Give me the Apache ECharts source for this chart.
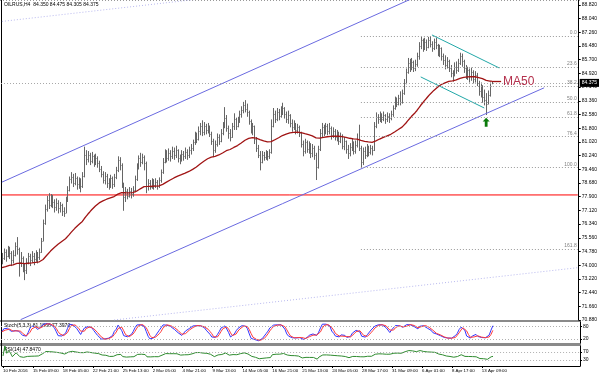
<!DOCTYPE html>
<html>
<head>
<meta charset="utf-8">
<script src="https://cdn.jsdelivr.net/npm/echarts@6/dist/echarts.min.js"></script>
<style>
  html, body { margin: 0; padding: 0; background: #fff; }
  #chart { width: 600px; height: 376px; }
</style>
</head>
<body>
<div id="chart"></div>
<script>
// H4 bars
const highs = [
  74.70, 74.95, 74.90, 75.10, 75.05, 74.80, 74.85, 75.30, 75.60, 75.00, 74.75,
  74.50, 74.10, 74.40, 74.70, 74.65, 74.80, 74.70, 74.85, 74.75, 74.95, 75.55,
  76.60, 77.45, 77.95, 78.10, 78.05, 78.00, 77.75, 77.80, 77.70, 77.60, 77.50, 77.30, 77.90,
  78.50, 79.05, 79.30, 79.20, 79.25, 79.05, 79.00, 78.95, 79.30, 80.75, 80.55,
  80.50, 80.40, 80.45, 80.30, 80.35, 80.20, 79.95, 79.65,
  79.35, 79.30, 79.20, 78.95, 79.15, 79.05, 79.20, 79.60,
  80.20, 80.15, 79.80, 78.70, 78.45,
  78.35, 78.45, 78.40, 78.50, 79.10,
  79.80, 80.25, 80.40, 80.35, 80.25, 79.90,
  78.90, 78.85, 78.95, 78.90, 78.95, 78.85, 79.00, 79.45,
  80.10, 80.60, 80.55, 80.65, 80.55,
  80.75, 80.70, 80.80, 80.60, 80.30, 80.55, 80.50, 80.70, 80.60, 80.75, 80.90,
  81.15, 81.60, 81.55, 81.90, 82.10,
  82.25, 82.15, 82.05, 82.10, 81.95, 81.60,
  81.20, 81.10, 81.50, 81.45, 81.75,
  82.15, 83.00, 82.55, 81.95, 81.75, 82.10, 82.65, 82.40, 82.45,
  82.80, 83.05, 83.30, 83.40, 83.20,
  82.80, 82.30, 82.10, 81.95, 81.30, 80.85, 80.50,
  80.50, 80.45, 80.55, 80.50, 80.60, 82.30,
  82.95, 82.80, 82.95, 82.90, 83.05, 83.25,
  83.00, 82.75, 82.80, 82.60, 82.30, 82.25, 82.10, 82.05, 81.95,
  81.60, 81.10, 81.20, 81.10,
  81.05, 80.95, 80.90, 80.80, 80.40,
  80.80, 81.75, 82.10, 82.00, 82.10, 82.05,
  82.10, 81.90, 81.85, 81.75, 81.70, 81.60, 81.55,
  81.45, 81.30, 81.10, 80.85, 80.95, 81.20, 81.05, 81.10, 81.50,
  82.00, 80.80, 80.70, 80.75, 80.90,
  80.80, 80.85, 80.80,
  82.15, 82.70, 82.60, 82.75,
  82.65, 82.75, 82.60, 82.70, 82.65, 82.80, 83.10,
  83.60, 83.55, 83.70, 83.90,
  84.00, 84.60, 85.20, 85.80, 85.75,
  85.80, 85.65, 85.70, 86.10,
  86.70, 87.00, 86.90,
  86.95, 86.85, 87.00, 87.05, 86.75, 86.90, 86.95,
  86.60, 86.55, 86.40, 86.05,
  85.95, 85.85, 85.70, 85.40,
  85.10, 85.55, 85.60, 85.75,
  86.10, 86.05, 85.70,
  85.40, 85.30, 85.20, 85.25, 85.10, 85.05, 84.95,
  84.50, 84.40, 84.25,
  84.00, 83.80,
  83.95, 84.40, 84.475
];
const lows = [
  74.05, 74.30, 74.20, 74.45, 74.35, 73.95, 74.10, 74.50, 74.60, 73.35, 73.90,
  73.60, 73.15, 73.50, 74.05, 73.95, 74.15, 74.00, 74.20, 74.10, 74.30, 74.70,
  75.35, 76.30, 77.05, 77.20, 77.30, 77.25, 77.00, 77.10, 76.95, 77.00, 76.80, 76.75, 76.95,
  77.60, 78.20, 78.65, 78.45, 78.55, 78.30, 78.35, 78.15, 78.40, 79.00, 79.70,
  79.85, 79.70, 79.80, 79.60, 79.70, 79.55, 79.30, 79.00,
  78.65, 78.60, 78.40, 78.30, 78.40, 78.35, 78.45, 78.90,
  79.30, 79.40, 78.40, 77.10, 77.60,
  77.75, 77.85, 77.80, 77.90, 78.15,
  78.80, 79.45, 79.60, 79.75, 79.40, 78.10,
  78.25, 78.30, 78.35, 78.30, 78.40, 78.30, 78.40, 78.70,
  79.20, 79.80, 79.85, 79.95, 79.90,
  80.05, 80.00, 80.10, 79.85, 79.75, 79.90, 79.95, 80.05, 80.00, 80.10, 80.30,
  80.50, 80.85, 80.95, 81.10, 81.40,
  81.35, 81.40, 81.45, 81.50, 81.30, 80.85,
  80.15, 80.40, 80.75, 80.85, 81.00,
  81.40, 81.80, 81.60, 81.20, 81.05, 81.25, 81.70, 81.70, 81.85,
  82.10, 82.40, 82.65, 82.70, 82.45,
  82.00, 81.50, 81.40, 80.90, 80.45, 80.10, 79.40,
  79.80, 79.95, 80.00, 79.95, 80.05, 80.35,
  81.85, 82.10, 82.20, 82.25, 82.40, 82.55,
  82.35, 82.10, 82.05, 81.85, 81.60, 81.70, 81.45, 81.50, 81.30,
  80.70, 80.20, 80.35, 80.40,
  80.35, 80.10, 80.15, 80.00, 78.85,
  79.50, 80.50, 81.30, 81.35, 81.45, 81.40,
  81.45, 81.15, 81.25, 81.10, 81.05, 80.85, 80.95,
  80.60, 80.55, 80.35, 80.05, 80.20, 80.50, 80.30, 80.35, 80.70,
  80.50, 79.55, 79.70, 80.05, 80.15,
  80.20, 80.30, 80.25,
  80.50, 81.80, 82.05, 82.15,
  82.10, 82.20, 82.05, 82.15, 82.10, 82.25, 82.45,
  82.85, 83.00, 83.10, 83.10,
  83.20, 83.70, 84.30, 84.90, 85.00,
  85.10, 85.00, 85.05, 85.30,
  85.70, 86.30, 86.15,
  86.25, 86.20, 86.35, 86.40, 86.15, 86.25, 86.30,
  85.90, 85.85, 85.65, 85.40,
  85.15, 85.20, 85.00, 84.70,
  84.45, 84.75, 84.90, 85.00,
  85.40, 85.30, 84.95,
  84.60, 84.55, 84.40, 84.50, 84.35, 84.40, 84.20,
  83.65, 83.55, 83.25,
  83.10, 82.55,
  83.15, 83.60, 84.305
];
const closes = [
  74.40, 74.75, 74.55, 74.85, 74.70, 74.30, 74.60, 75.10, 74.90, 74.20, 74.40,
  73.90, 73.70, 74.20, 74.50, 74.30, 74.55, 74.35, 74.60, 74.45, 74.75, 75.40,
  76.40, 77.20, 77.70, 77.45, 77.85, 77.60, 77.30, 77.55, 77.25, 77.40, 77.10, 77.00, 77.70,
  78.30, 78.90, 79.05, 78.70, 78.95, 78.60, 78.85, 78.50, 79.10, 80.30, 80.05,
  80.25, 79.95, 80.20, 79.85, 80.10, 79.80, 79.50, 79.20,
  78.85, 79.10, 78.70, 78.55, 78.95, 78.60, 79.00, 79.40,
  80.00, 79.70, 78.60, 77.90, 78.20,
  77.95, 78.25, 78.05, 78.30, 78.90,
  79.60, 80.10, 79.85, 80.15, 79.80, 78.50,
  78.70, 78.45, 78.80, 78.55, 78.75, 78.50, 78.85, 79.30,
  79.90, 80.35, 80.10, 80.40, 80.20,
  80.50, 80.30, 80.55, 80.10, 80.00, 80.35, 80.20, 80.45, 80.30, 80.55, 80.70,
  81.00, 81.40, 81.20, 81.65, 81.90,
  81.60, 81.95, 81.70, 81.85, 81.45, 81.10,
  80.55, 80.90, 81.30, 81.10, 81.55,
  81.90, 82.40, 81.80, 81.55, 81.30, 81.90, 82.30, 81.95, 82.25,
  82.60, 82.85, 83.10, 82.90, 82.70,
  82.20, 81.70, 81.90, 81.20, 80.70, 80.30, 79.90,
  80.30, 80.15, 80.40, 80.20, 80.45, 81.90,
  82.60, 82.35, 82.70, 82.50, 82.85, 82.95,
  82.60, 82.30, 82.55, 82.10, 81.85, 82.05, 81.70, 81.85, 81.55,
  80.90, 80.50, 81.00, 80.60,
  80.85, 80.40, 80.70, 80.25, 79.60,
  80.60, 81.50, 81.85, 81.60, 81.90, 81.65,
  81.80, 81.40, 81.65, 81.30, 81.50, 81.10, 81.35,
  80.80, 81.05, 80.60, 80.40, 80.75, 80.95, 80.50, 80.85, 81.20,
  80.70, 79.90, 80.50, 80.30, 80.75,
  80.45, 80.70, 80.55,
  81.90, 82.45, 82.30, 82.55,
  82.35, 82.55, 82.30, 82.50, 82.40, 82.60, 82.95,
  83.40, 83.20, 83.50, 83.30,
  83.80, 84.40, 85.00, 85.50, 85.30,
  85.55, 85.20, 85.45, 85.90,
  86.50, 86.80, 86.40,
  86.70, 86.45, 86.80, 86.60, 86.35, 86.70, 86.55,
  86.10, 86.35, 85.90, 85.70,
  85.40, 85.65, 85.20, 84.95,
  84.85, 85.30, 85.10, 85.50,
  85.90, 85.60, 85.20,
  84.80, 85.10, 84.75, 85.00, 84.60, 84.85, 84.40,
  83.90, 84.20, 83.60,
  83.40, 83.20,
  83.70, 84.20, 84.375
];

const timeLabels = [
  '10 Feb 2016', '15 Feb 09:00', '18 Feb 05:00', '22 Feb 21:00', '25 Feb 13:00',
  '2 Mar 05:00', '4 Mar 21:00', '9 Mar 13:00', '14 Mar 05:00', '16 Mar 21:00',
  '21 Mar 13:00', '24 Mar 05:00', '28 Mar 17:00', '31 Mar 09:00', '6 Apr 01:00',
  '8 Apr 17:00', '13 Apr 09:00'
];
const labelEvery = 16;
const slotCount = 309;

const priceTicks = [
  70.88, 71.66, 72.44, 73.22, 74.00, 74.78, 75.56, 76.34, 77.12, 77.90, 78.68, 79.46,
  80.24, 81.02, 81.80, 82.58, 83.36, 84.14, 84.92, 85.70, 86.48, 87.26, 88.04, 88.82
];
const stochTicks = [0, 20, 80, 100];
const rsiTicks = [30, 70];

// drawn objects: [bar index, price]
const upperChannel = [[0, 78.73], [230, 89.69]];
const lowerChannel = [[10, 70.90], [290, 84.10]];
const upperFaint = [[0, 87.88], [110, 89.21]];
const lowerFaint = [[60, 70.88], [308, 73.86]];
const flagUpper = [[230, 87.11], [266, 85.23]];
const flagLower = [[224, 84.72], [258, 82.95]];
const redLevel = 78.0;
const lastPrice = 84.375;
const fibStart = 192, fibLow = 79.55, fibHigh = 87.05;
const fibRatios = [0, 23.6, 38.2, 50, 61.8, 76.4, 100, 161.8];
const arrowAt = [259, 82.40];
const maPeriod = 50;
const maSeed = 73.84;   // MA value at the left edge

// indicators
function sma(arr, n) {
  return arr.map((_, i) => {
    const s = Math.max(0, i - n + 1);
    let t = 0;
    for (let j = s; j <= i; j++) t += arr[j];
    return +(t / (i - s + 1)).toFixed(4);
  });
}
function ema(arr, n, seed) {
  const k = 2 / (n + 1);
  let e = seed;
  return arr.map(v => { e = e + k * (v - e); return +e.toFixed(4); });
}
const ma50 = ema(closes, maPeriod, maSeed);

const stochParts = closes.map((c, i) => {
  let hh = -Infinity, ll = Infinity;
  for (let j = Math.max(0, i - 4); j <= i; j++) {
    hh = Math.max(hh, highs[j]);
    ll = Math.min(ll, lows[j]);
  }
  return [c - ll, hh - ll];
});
const stochMain = stochParts.map((_, i) => {
  let a = 0, b = 0;
  for (let j = Math.max(0, i - 2); j <= i; j++) { a += stochParts[j][0]; b += stochParts[j][1]; }
  return b ? +(a / b * 100).toFixed(2) : 50;
});
const stochSignal = sma(stochMain, 3);

const rsi = [];
let avgGain = 0, avgLoss = 0;
closes.forEach((c, i) => {
  if (i === 0) { rsi.push(50); return; }
  const ch = c - closes[i - 1];
  const g = Math.max(ch, 0), l = Math.max(-ch, 0);
  if (i <= 14) {
    avgGain = (avgGain * (i - 1) + g) / i;
    avgLoss = (avgLoss * (i - 1) + l) / i;
  } else {
    avgGain = (avgGain * 13 + g) / 14;
    avgLoss = (avgLoss * 13 + l) / 14;
  }
  rsi.push(avgLoss === 0 ? 100 : +(100 - 100 / (1 + avgGain / avgLoss)).toFixed(2));
});

const idx = (arr) => arr.map((v, i) => [i, v]);
const slots = Array.from({ length: slotCount }, (_, i) => i);
const font = 'Liberation Sans';
const small = { fontSize: 5, fontFamily: font, color: '#000' };

var chart = echarts.init(document.getElementById('chart'), null, { renderer: 'canvas' });

const fibLines = fibRatios.map(r => {
  const p = fibHigh - r / 100 * (fibHigh - fibLow);
  return [
    { coord: [fibStart, p], label: { formatter: String(r.toFixed(1)) } },
    { coord: [slotCount - 1, p] }
  ];
});

const showLabel = (i) => i % labelEvery === 0 && i / labelEvery < timeLabels.length;
const xAxes = [0, 1, 2].map(g => ({
  type: 'category', gridIndex: g, data: slots, boundaryGap: true,
  axisLine: { show: g === 2, lineStyle: { color: '#000', width: 1 } },
  axisTick: { show: g === 2, length: 2, alignWithLabel: true, interval: showLabel },
  axisLabel: {
    show: g === 2, fontSize: 4.4, fontFamily: font, color: '#000', margin: 3, align: 'left',
    interval: showLabel,
    formatter: (v, i) => timeLabels[i / labelEvery] || ''
  },
  splitLine: { show: false }
}));

var option = {
  animation: false,
  backgroundColor: '#fff',
  grid: [
    { left: 1, right: 20, top: 0, height: 320 },
    { left: 1, right: 20, top: 322, height: 21 },
    { left: 1, right: 20, top: 346, height: 20 }
  ],
  xAxis: xAxes,
  yAxis: [
    {
      type: 'value', gridIndex: 0, position: 'right', min: 70.88, max: 89.10,
      axisLine: { show: true, lineStyle: { color: '#000' } },
      axisTick: { show: true, length: 2, customValues: priceTicks, lineStyle: { color: '#000' } },
      axisLabel: { ...small, margin: 3, customValues: priceTicks, formatter: v => v.toFixed(3) },
      splitLine: { show: false }
    },
    {
      type: 'value', gridIndex: 1, position: 'right', min: 0, max: 100,
      axisLine: { show: true, lineStyle: { color: '#000' } },
      axisTick: { show: true, length: 2, customValues: stochTicks },
      axisLabel: { ...small, margin: 3, customValues: stochTicks },
      splitLine: { show: false }
    },
    {
      type: 'value', gridIndex: 2, position: 'right', min: 0, max: 100,
      axisLine: { show: true, lineStyle: { color: '#000' } },
      axisTick: { show: true, length: 2, customValues: rsiTicks },
      axisLabel: { ...small, margin: 3, customValues: rsiTicks },
      splitLine: { show: false }
    }
  ],
  series: [
    {
      name: 'level', type: 'line', xAxisIndex: 0, yAxisIndex: 0,
      data: [[0, redLevel], [slotCount - 1, redLevel]],
      symbol: 'none', silent: true, lineStyle: { color: '#ff0000', width: 1 }, z: 1,
      markLine: {
        silent: true, symbol: ['none', 'none'], animation: false,
        lineStyle: { color: '#9a9a9a', type: [1, 2], width: 1 },
        label: { show: true, position: 'insideEndTop', distance: 1, fontSize: 5, fontFamily: font, color: '#808080' },
        data: [
          ...fibLines,
          {
            yAxis: lastPrice,
            lineStyle: { color: '#a8a8a8', type: [1, 2] },
            label: {
              position: 'end', distance: 1, formatter: lastPrice.toFixed(3),
              backgroundColor: '#000', color: '#fff', fontSize: 5, padding: [2, 2, 1, 2]
            }
          }
        ]
      },
      markPoint: {
        silent: true, animation: false,
        symbol: 'path://M5,0 L10,5 L7,5 L7,12 L3,12 L3,5 L0,5 Z',
        symbolSize: [7, 9], symbolOffset: [0, '50%'],
        itemStyle: { color: '#0a7a0a' }, label: { show: false },
        data: [{ coord: arrowAt }]
      }
    },
    {
      name: 'upperChannel', type: 'line', data: upperChannel, symbol: 'none', silent: true,
      lineStyle: { color: '#6a6ae0', width: 1 }
    },
    {
      name: 'lowerChannel', type: 'line', data: lowerChannel, symbol: 'none', silent: true,
      lineStyle: { color: '#6a6ae0', width: 1 }
    },
    {
      name: 'upperFaint', type: 'line', data: upperFaint, symbol: 'none', silent: true,
      lineStyle: { color: '#b8b8ee', width: 1, type: [1, 2] }
    },
    {
      name: 'lowerFaint', type: 'line', data: lowerFaint, symbol: 'none', silent: true,
      lineStyle: { color: '#b8b8ee', width: 1, type: [1, 2] }
    },
    {
      name: 'flagUpper', type: 'line', data: flagUpper, symbol: 'none', silent: true,
      lineStyle: { color: '#22a8a8', width: 1 }
    },
    {
      name: 'flagLower', type: 'line', data: flagLower, symbol: 'none', silent: true,
      lineStyle: { color: '#22a8a8', width: 1 }
    },
    {
      name: 'bars', type: 'custom', xAxisIndex: 0, yAxisIndex: 0,
      data: closes.map((c, i) => [i, highs[i], lows[i], c]),
      encode: { x: 0, y: [1, 2, 3] },
      z: 3,
      renderItem: function (params, api) {
        const top = api.coord([api.value(0), api.value(1)]);
        const bot = api.coord([api.value(0), api.value(2)]);
        const cl = api.coord([api.value(0), api.value(3)]);
        const x = Math.round(top[0]) + 0.5;
        const cy = Math.round(cl[1]) + 0.5;
        return {
          type: 'group',
          children: [
            { type: 'line', shape: { x1: x, y1: top[1], x2: x, y2: bot[1] }, style: { stroke: '#666', lineWidth: 1 } },
            { type: 'line', shape: { x1: x, y1: cy, x2: x + 1, y2: cy }, style: { stroke: '#666', lineWidth: 1 } }
          ]
        };
      }
    },
    {
      name: 'MA50', type: 'line', data: idx(ma50), symbol: 'none', silent: true, z: 4,
      lineStyle: { color: '#a01414', width: 1.3 },
      markLine: {
        silent: true, symbol: ['none', 'none'], animation: false,
        lineStyle: { color: '#a01414', width: 1.3, type: 'solid' },
        label: { show: true, position: 'end', distance: 2, formatter: 'MA50', color: '#b4304c', fontSize: 12, fontFamily: font },
        data: [[{ coord: [closes.length - 1, ma50[ma50.length - 1]] }, { coord: [closes.length + 4, ma50[ma50.length - 1]] }]]
      }
    },
    {
      name: 'stochMain', type: 'line', xAxisIndex: 1, yAxisIndex: 1, data: idx(stochMain),
      symbol: 'none', silent: true, lineStyle: { color: '#3434ff', width: 1 },
      markLine: {
        silent: true, symbol: ['none', 'none'], animation: false, label: { show: false },
        lineStyle: { color: '#b0b0b0', type: [1, 2], width: 1 },
        data: [{ yAxis: 20 }, { yAxis: 80 }]
      }
    },
    {
      name: 'stochSignal', type: 'line', xAxisIndex: 1, yAxisIndex: 1, data: idx(stochSignal),
      symbol: 'none', silent: true, lineStyle: { color: '#ff3a3a', width: 1 }
    },
    {
      name: 'rsi', type: 'line', xAxisIndex: 2, yAxisIndex: 2, data: idx(rsi),
      symbol: 'none', silent: true, lineStyle: { color: '#2e8b2e', width: 1 },
      markLine: {
        silent: true, symbol: ['none', 'none'], animation: false, label: { show: false },
        lineStyle: { color: '#b0b0b0', type: [1, 2], width: 1 },
        data: [{ yAxis: 30 }, { yAxis: 70 }]
      }
    }
  ],
  graphic: [
    { type: 'rect', shape: { x: 0, y: 320, width: 581, height: 2 }, style: { fill: '#8a8a8a' }, silent: true },
    { type: 'rect', shape: { x: 0, y: 343, width: 581, height: 3 }, style: { fill: '#8a8a8a' }, silent: true },
    { type: 'line', shape: { x1: 1.5, y1: 0, x2: 1.5, y2: 366 }, style: { stroke: '#000', lineWidth: 1 }, silent: true },
    { type: 'line', shape: { x1: 0, y1: 0.5, x2: 580, y2: 0.5 }, style: { stroke: '#999', lineWidth: 1, lineDash: [1, 2] }, silent: true },
    { type: 'text', left: 4, top: 2, style: { text: 'OILRUS,H4  84.350 84.475 84.305 84.375', fill: '#000', font: '5px ' + font } },
    { type: 'text', left: 4, top: 323, style: { text: 'Stoch(5,3,3) 81.1866 77.3970', fill: '#000', font: '5px ' + font } },
    { type: 'text', left: 4, top: 347, style: { text: 'RSI(14) 47.8470', fill: '#000', font: '5px ' + font } }
  ]
};

chart.setOption(option);
</script>
</body>
</html>
